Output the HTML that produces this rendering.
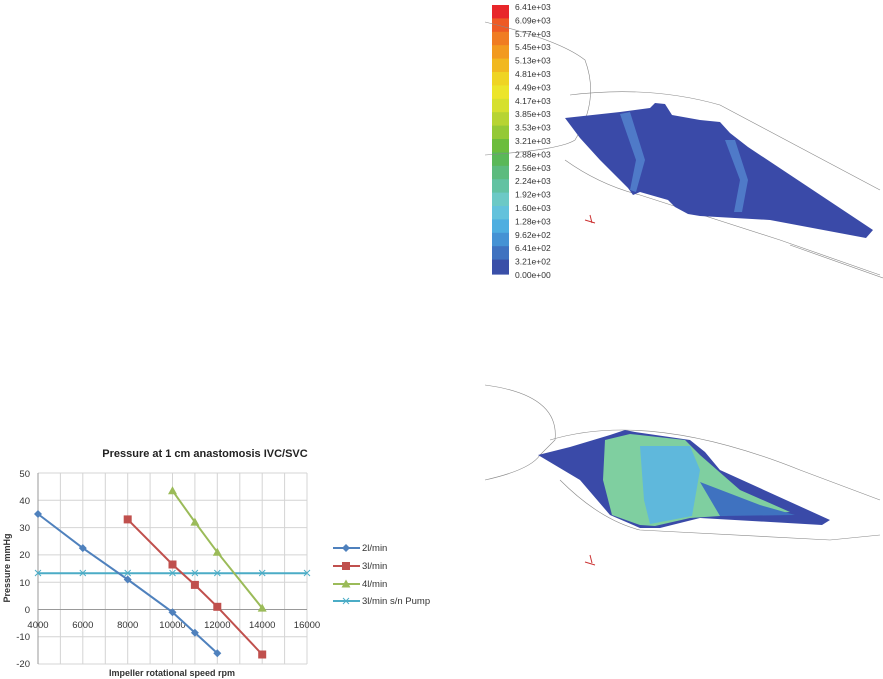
<!DOCTYPE html>
<html><head><style>body{margin:0;background:#fff;width:883px;height:679px;overflow:hidden}svg{display:block}</style></head><body>
<svg width="883" height="679" xmlns="http://www.w3.org/2000/svg" font-family="Liberation Sans, sans-serif">
<text x="205" y="457" font-size="11" font-weight="bold" text-anchor="middle" fill="#222">Pressure at 1 cm anastomosis  IVC/SVC</text>
<g stroke="#d4d4d4" stroke-width="1">
<line x1="38" y1="473" x2="307" y2="473"/><line x1="38" y1="500.3" x2="307" y2="500.3"/><line x1="38" y1="527.6" x2="307" y2="527.6"/><line x1="38" y1="554.9" x2="307" y2="554.9"/><line x1="38" y1="582.2" x2="307" y2="582.2"/><line x1="38" y1="636.8" x2="307" y2="636.8"/><line x1="38" y1="664" x2="307" y2="664"/>
<line x1="60.4" y1="473" x2="60.4" y2="664"/><line x1="82.8" y1="473" x2="82.8" y2="664"/><line x1="105.3" y1="473" x2="105.3" y2="664"/><line x1="127.7" y1="473" x2="127.7" y2="664"/><line x1="150.1" y1="473" x2="150.1" y2="664"/><line x1="172.5" y1="473" x2="172.5" y2="664"/><line x1="194.9" y1="473" x2="194.9" y2="664"/><line x1="217.3" y1="473" x2="217.3" y2="664"/><line x1="239.8" y1="473" x2="239.8" y2="664"/><line x1="262.2" y1="473" x2="262.2" y2="664"/><line x1="284.6" y1="473" x2="284.6" y2="664"/><line x1="307" y1="473" x2="307" y2="664"/>
</g>
<line x1="38" y1="473" x2="38" y2="664" stroke="#999"/>
<line x1="38" y1="609.5" x2="307" y2="609.5" stroke="#999"/>
<g font-size="9.5" fill="#333" text-anchor="end">
<text x="30" y="477">50</text><text x="30" y="504">40</text><text x="30" y="531">30</text><text x="30" y="558">20</text><text x="30" y="586">10</text><text x="30" y="613">0</text><text x="30" y="640">-10</text><text x="30" y="667">-20</text>
</g>
<g font-size="9.5" fill="#333" text-anchor="middle">
<text x="38" y="628">4000</text><text x="82.8" y="628">6000</text><text x="127.7" y="628">8000</text><text x="172.5" y="628">10000</text><text x="217.3" y="628">12000</text><text x="262.2" y="628">14000</text><text x="307" y="628">16000</text>
</g>
<text x="172" y="676" font-size="9" font-weight="bold" text-anchor="middle" fill="#333">Impeller rotational speed rpm</text>
<text transform="translate(10,568) rotate(-90)" font-size="9" font-weight="bold" text-anchor="middle" fill="#333">Pressure mmHg</text>
<polyline points="38,573.2 307,573.2" stroke="#4bacc6" stroke-width="2" fill="none"/>
<g stroke="#4bacc6" stroke-width="1"><path d="M35,570l6,6M41,570l-6,6M79.8,570l6,6M85.8,570l-6,6M124.7,570l6,6M130.7,570l-6,6M169.5,570l6,6M175.5,570l-6,6M191.9,570l6,6M197.9,570l-6,6M214.3,570l6,6M220.3,570l-6,6M259.2,570l6,6M265.2,570l-6,6M304,570l6,6M310,570l-6,6"/></g>
<polyline points="38,514 82.8,548.1 127.7,579.5 172.5,612.2 194.9,632.7 217.3,653.2" stroke="#4f81bd" stroke-width="2" fill="none"/>
<g fill="#4f81bd"><path d="M38,510l4,4-4,4-4-4z M82.8,544.1l4,4-4,4-4-4z M127.7,575.5l4,4-4,4-4-4z M172.5,608.2l4,4-4,4-4-4z M194.9,628.7l4,4-4,4-4-4z M217.3,649.2l4,4-4,4-4-4z"/></g>
<polyline points="127.7,519.4 172.5,564.5 194.9,584.9 217.3,606.8 262.2,654.5" stroke="#c0504d" stroke-width="2" fill="none"/>
<g fill="#c0504d"><rect x="123.7" y="515.4" width="8" height="8"/><rect x="168.5" y="560.5" width="8" height="8"/><rect x="190.9" y="580.9" width="8" height="8"/><rect x="213.3" y="602.8" width="8" height="8"/><rect x="258.2" y="650.5" width="8" height="8"/></g>
<polyline points="172.5,490.7 194.9,522.1 217.3,552.2 262.2,608.1" stroke="#9bbb59" stroke-width="2" fill="none"/>
<g fill="#9bbb59"><path d="M172.5,486.2l4.5,8h-9z M194.9,517.6l4.5,8h-9z M217.3,547.7l4.5,8h-9z M262.2,603.6l4.5,8h-9z"/></g>
<line x1="333" y1="548" x2="360" y2="548" stroke="#4f81bd" stroke-width="2"/><path d="M346,544l4,4-4,4-4-4z" fill="#4f81bd"/>
<line x1="333" y1="566" x2="360" y2="566" stroke="#c0504d" stroke-width="2"/><rect x="342" y="562" width="8" height="8" fill="#c0504d"/>
<line x1="333" y1="584" x2="360" y2="584" stroke="#9bbb59" stroke-width="2"/><path d="M346,579.5l4.5,8h-9z" fill="#9bbb59"/>
<line x1="333" y1="601" x2="360" y2="601" stroke="#4bacc6" stroke-width="2"/><path d="M343,598l6,6M349,598l-6,6" stroke="#4bacc6"/>
<g font-size="9.5" fill="#333"><text x="362" y="551">2l/min</text><text x="362" y="569">3l/min</text><text x="362" y="587">4l/min</text><text x="362" y="604">3l/min s/n Pump</text></g>

<g>
<rect x="492" y="5" width="17" height="14" fill="#e8262a"/>
<rect x="492" y="18.4" width="17" height="14" fill="#ee5a24"/>
<rect x="492" y="31.8" width="17" height="14" fill="#f07c22"/>
<rect x="492" y="45.2" width="17" height="14" fill="#f29a20"/>
<rect x="492" y="58.6" width="17" height="14" fill="#f1b820"/>
<rect x="492" y="72" width="17" height="14" fill="#efd423"/>
<rect x="492" y="85.4" width="17" height="14" fill="#ece52a"/>
<rect x="492" y="98.8" width="17" height="14" fill="#d6e02e"/>
<rect x="492" y="112.2" width="17" height="14" fill="#b7d432"/>
<rect x="492" y="125.6" width="17" height="14" fill="#94c936"/>
<rect x="492" y="139" width="17" height="14" fill="#6cbd3c"/>
<rect x="492" y="152.4" width="17" height="14" fill="#5ab858"/>
<rect x="492" y="165.8" width="17" height="14" fill="#5cbb7e"/>
<rect x="492" y="179.2" width="17" height="14" fill="#62c2a2"/>
<rect x="492" y="192.6" width="17" height="14" fill="#6cc9c6"/>
<rect x="492" y="206" width="17" height="14" fill="#63c2dc"/>
<rect x="492" y="219.4" width="17" height="14" fill="#4eaee0"/>
<rect x="492" y="232.8" width="17" height="14" fill="#4592d4"/>
<rect x="492" y="246.2" width="17" height="14" fill="#3f72c0"/>
<rect x="492" y="259.6" width="17" height="15" fill="#3a4fa8"/>
</g>
<g font-size="8.5" fill="#333">
<text x="515" y="10">6.41e+03</text><text x="515" y="23.4">6.09e+03</text><text x="515" y="36.8">5.77e+03</text><text x="515" y="50.2">5.45e+03</text><text x="515" y="63.6">5.13e+03</text><text x="515" y="77">4.81e+03</text><text x="515" y="90.4">4.49e+03</text><text x="515" y="103.8">4.17e+03</text><text x="515" y="117.2">3.85e+03</text><text x="515" y="130.6">3.53e+03</text><text x="515" y="144">3.21e+03</text><text x="515" y="157.4">2.88e+03</text><text x="515" y="170.8">2.56e+03</text><text x="515" y="184.2">2.24e+03</text><text x="515" y="197.6">1.92e+03</text><text x="515" y="211">1.60e+03</text><text x="515" y="224.4">1.28e+03</text><text x="515" y="237.8">9.62e+02</text><text x="515" y="251.2">6.41e+02</text><text x="515" y="264.6">3.21e+02</text><text x="515" y="278">0.00e+00</text>
</g>
<g stroke="#888" stroke-width="0.6" fill="none">
<path d="M485,22 Q560,40 585,60 Q600,100 575,140 Q560,150 485,155"/>
<path d="M570,95 Q650,85 720,105 L880,190"/>
<path d="M565,160 Q600,185 640,195 L780,240 L880,275"/>
<path d="M790,245 L883,278"/>
</g>
<polygon points="565,118 620,112 650,108 655,103 665,104 672,115 700,120 720,122 730,133 748,147 873,230 866,238 770,220 700,216 688,214 675,207 668,200 640,192 633,195 628,188 600,160 580,138" fill="#3a4aa8"/>
<polygon points="620,114 630,112 645,160 636,192 630,190 636,160" fill="#4f7ac8"/>
<polygon points="725,140 735,140 748,180 742,212 734,212 740,180" fill="#4f7ac8"/>
<path d="M585,220 l10,3 M590,215 l2,8" stroke="#c33" stroke-width="1"/>
<g stroke="#888" stroke-width="0.6" fill="none">
<path d="M485,385 Q560,395 555,440 L540,455 Q530,470 485,480"/>
<path d="M550,440 Q650,410 800,470 L880,500"/>
<path d="M560,480 Q600,520 640,530 L830,540 L880,535"/>
</g>
<polygon points="538,455 570,447 610,435 625,430 635,432 690,440 705,452 720,470 830,520 822,525 700,518 660,528 640,528 610,515 580,480" fill="#3a4aa8"/>
<polygon points="605,440 630,434 685,440 700,455 740,490 790,512 720,516 690,518 655,526 640,525 612,515 603,480" fill="#7fcfa0"/>
<polygon points="640,446 690,446 700,470 692,516 650,524 644,500" fill="#5fb8dc"/>
<polygon points="700,482 760,505 795,515 720,516" fill="#3f72c0"/>
<path d="M585,562 l10,3 M590,555 l2,8" stroke="#c33" stroke-width="1"/>
</svg>
</body></html>
